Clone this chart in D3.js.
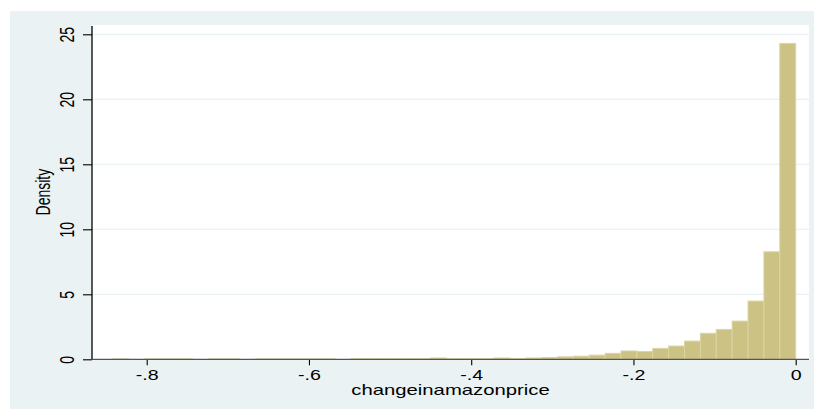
<!DOCTYPE html>
<html>
<head>
<meta charset="utf-8">
<script src="https://cdn.jsdelivr.net/npm/d3@7"></script>
<style>
  html, body { margin: 0; padding: 0; background: #ffffff; }
  svg { display: block; }
  text { font-family: "Liberation Sans", Arial, sans-serif; fill: #000; }
</style>
</head>
<body>
<svg id="chart" width="814" height="409"></svg>
<script>
// Histogram of changeinamazonprice: 43 equal-width bins, density scale
const binStart = -0.8417;
const binWidth = 0.019574;
const density = [
  0.03, 0, 0.03, 0.03, 0.03, 0, 0.03, 0.03, 0, 0.03,
  0.03, 0.03, 0.03, 0.03, 0, 0.04, 0.04, 0.04, 0.04, 0.04,
  0.10, 0.04, 0.04, 0.04, 0.10, 0.05, 0.10, 0.14, 0.19, 0.24,
  0.32, 0.46, 0.64, 0.60, 0.84, 1.02, 1.40, 2.00, 2.30, 2.94,
  4.48, 8.27, 24.3
];
const xTicks = [-0.8, -0.6, -0.4, -0.2, 0];
const xTickLabels = ["-.8", "-.6", "-.4", "-.2", "0"];
const yTicks = [0, 5, 10, 15, 20, 25];
const yTickLabels = ["0", "5", "10", "15", "20", "25"];
const xTitle = "changeinamazonprice";
const yTitle = "Density";

const bins = density.map((d, i) => ({
  x0: binStart + i * binWidth,
  x1: binStart + (i + 1) * binWidth,
  value: d
}));

const W = 814, H = 409;
const plot = { left: 92, right: 809, top: 25, bottom: 359.3 };
const stretch = 1.4; // wide glyph shape used for all labels

const svg = d3.select("#chart");

// graph region and plot region backgrounds
svg.append("rect").attr("x", 10).attr("y", 11).attr("width", W - 10).attr("height", H - 11)
  .attr("fill", "#eaf2f3");
svg.append("rect").attr("x", plot.left).attr("y", plot.top)
  .attr("width", plot.right - plot.left).attr("height", plot.bottom - plot.top)
  .attr("fill", "#ffffff");

const x = d3.scaleLinear().domain([-0.8, 0]).range([146.7, 795.7]);
const y = d3.scaleLinear().domain([0, 25]).range([plot.bottom, 34.3]);

// horizontal grid lines
svg.append("g").selectAll("line")
  .data(yTicks.filter(t => t > 0))
  .join("line")
  .attr("x1", plot.left).attr("x2", plot.right)
  .attr("y1", d => y(d)).attr("y2", d => y(d))
  .attr("stroke", "#eaf2f3").attr("stroke-width", 1.2);

// bars
svg.append("g").selectAll("rect")
  .data(bins)
  .join("rect")
  .attr("x", d => x(d.x0))
  .attr("width", d => x(d.x1) - x(d.x0))
  .attr("y", d => y(d.value))
  .attr("height", d => y(0) - y(d.value))
  .attr("fill", "#cbc283")
  .attr("stroke", "#dbd4a3")
  .attr("stroke-width", 1);

// y axis
const yAxis = svg.append("g")
  .attr("transform", `translate(${plot.left},0)`)
  .call(d3.axisLeft(y).tickValues(yTicks).tickSize(9).tickSizeOuter(0)
    .tickFormat((d, i) => yTickLabels[i]));
yAxis.select(".domain").remove();
yAxis.selectAll(".tick line").attr("stroke", "#000").attr("stroke-width", 1.1);
yAxis.selectAll(".tick text")
  .attr("x", null).attr("y", null).attr("dy", null)
  .attr("text-anchor", "middle")
  .attr("font-size", 14)
  .attr("font-family", "Liberation Sans, Arial, sans-serif")
  .attr("transform", `translate(-18,0) scale(${stretch},1) rotate(-90)`);
svg.append("line")
  .attr("x1", plot.left).attr("x2", plot.left)
  .attr("y1", plot.top + 1).attr("y2", plot.bottom)
  .attr("stroke", "#000").attr("stroke-width", 1.3);

// x axis
const xAxis = svg.append("g")
  .attr("transform", `translate(0,${plot.bottom})`)
  .call(d3.axisBottom(x).tickValues(xTicks).tickSize(6).tickSizeOuter(0)
    .tickFormat((d, i) => xTickLabels[i]));
xAxis.select(".domain").remove();
xAxis.selectAll(".tick line").attr("stroke", "#000").attr("stroke-width", 1.1);
xAxis.selectAll(".tick text")
  .attr("y", null).attr("dy", null)
  .attr("text-anchor", "middle")
  .attr("font-size", 14)
  .attr("font-family", "Liberation Sans, Arial, sans-serif")
  .attr("transform", `translate(0,21) scale(${stretch},1)`);
svg.append("line")
  .attr("x1", plot.left).attr("x2", plot.right)
  .attr("y1", plot.bottom).attr("y2", plot.bottom)
  .attr("stroke", "#555").attr("stroke-width", 1.2);

// axis titles
svg.append("text")
  .attr("text-anchor", "middle")
  .attr("font-size", 14)
  .attr("transform", `translate(${(plot.left + plot.right) / 2},395) scale(1.45,1)`)
  .text(xTitle);
svg.append("text")
  .attr("text-anchor", "middle")
  .attr("font-size", 14)
  .attr("transform", `translate(50,${(plot.top + plot.bottom) / 2}) scale(${stretch},1) rotate(-90)`)
  .text(yTitle);
</script>
</body>
</html>
